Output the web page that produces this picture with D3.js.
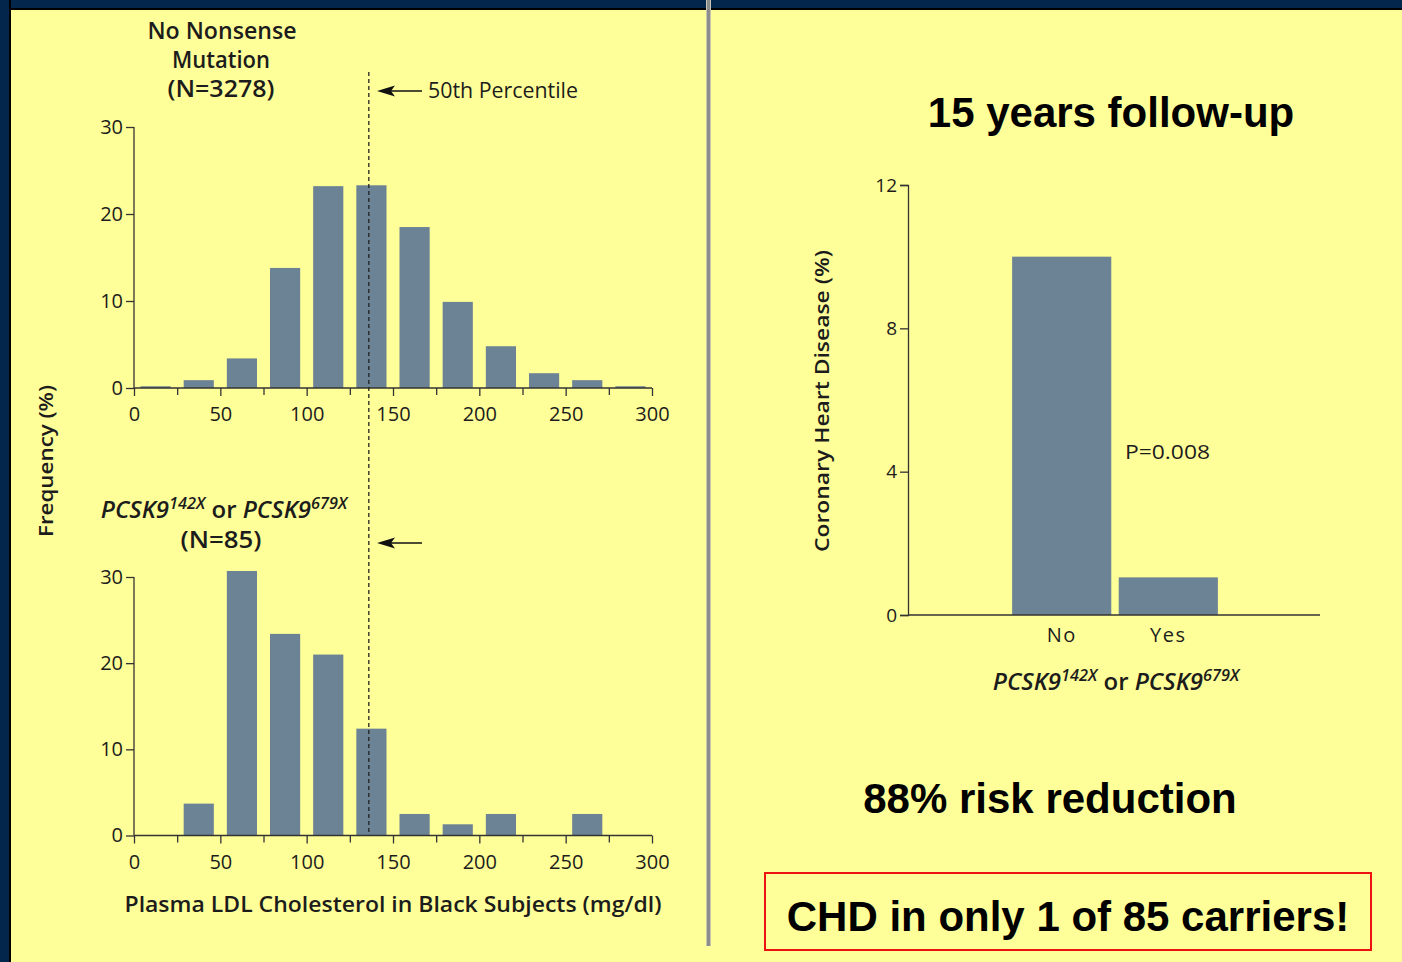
<!DOCTYPE html>
<html>
<head>
<meta charset="utf-8">
<script src="https://cdn.jsdelivr.net/npm/d3@7"></script>
<style>
  html, body { margin: 0; padding: 0; background: #ffff99; }
  svg { display: block; }
</style>
</head>
<body>
<svg id="chart" width="1402" height="962"></svg>
<script>
// ---------------- DATA ----------------
const binStarts = [0, 25, 50, 75, 100, 125, 150, 175, 200, 225, 250, 275];
const binWidth = 25;
const freqNoMutation = [0.2, 0.9, 3.4, 13.8, 23.2, 23.3, 18.5, 9.9, 4.8, 1.7, 0.9, 0.2];
const freqCarriers   = [0, 3.7, 30.7, 23.4, 21.0, 12.4, 2.5, 1.3, 2.5, 0, 2.5, 0];
const medianLDL = 136;
const ldlTicks = [0, 50, 100, 150, 200, 250, 300];
const ldlMinorTicks = [25, 75, 125, 175, 225, 275];
const freqTicks = [0, 10, 20, 30];

const chdCategories = ["No", "Yes"];
const chdValues = [10.0, 1.05];
const chdTicks = [0, 4, 8, 12];
const pValueLabel = "P=0.008";

// ---------------- STYLE ----------------
const barColor = "#6c8295";
const inkColor = "#1c1c1c";
const chartFont = "'Open Sans', 'Noto Sans', sans-serif";
const bigFont = "'Liberation Sans', Arial, sans-serif";

const svg = d3.select("#chart");

// background frame
svg.append("rect").attr("x", 0).attr("y", 0).attr("width", 1402).attr("height", 962).attr("fill", "#ffff99");
svg.append("rect").attr("x", 0).attr("y", 0).attr("width", 1402).attr("height", 10).attr("fill", "#000");
svg.append("rect").attr("x", 0).attr("y", 0).attr("width", 1402).attr("height", 8).attr("fill", "#03264d");
svg.append("rect").attr("x", 0).attr("y", 0).attr("width", 11).attr("height", 962).attr("fill", "#000");
svg.append("rect").attr("x", 0).attr("y", 0).attr("width", 9).attr("height", 962).attr("fill", "#03264d");
// divider
svg.append("rect").attr("x", 706).attr("y", 0).attr("width", 5).attr("height", 946).attr("fill", "#c8c8b0");
svg.append("rect").attr("x", 707).attr("y", 0).attr("width", 3).attr("height", 946).attr("fill", "#8c8c8c");

// ---------------- LEFT HISTOGRAMS ----------------
const x = d3.scaleLinear().domain([0, 300]).range([134, 652]);
const barPad = 6.5;

function styleAxis(a, size) {
  a.selectAll("path,line").attr("stroke", "#333").attr("stroke-width", 1.3);
  a.selectAll("text").attr("fill", inkColor).attr("font-family", chartFont)
    .attr("font-size", size).attr("font-weight", 500);
}

function histogram(values, yTop, yBottom) {
  const y = d3.scaleLinear().domain([0, 30]).range([yBottom, yTop]);
  const g = svg.append("g");
  g.selectAll("rect.bar").data(binStarts).enter().append("rect")
    .attr("class", "bar")
    .attr("x", d => x(d) + barPad)
    .attr("width", d => x(d + binWidth) - x(d) - 2 * barPad)
    .attr("y", (d, i) => y(values[i]))
    .attr("height", (d, i) => y(0) - y(values[i]))
    .attr("fill", barColor);

  const ya = g.append("g").attr("transform", `translate(${x(0)},0)`)
    .call(d3.axisLeft(y).tickValues(freqTicks).tickSize(8).tickPadding(3));
  const xa = g.append("g").attr("transform", `translate(0,${y(0)})`)
    .call(d3.axisBottom(x).tickValues(ldlTicks).tickSize(8).tickPadding(11));
  const xm = g.append("g").attr("transform", `translate(0,${y(0)})`)
    .call(d3.axisBottom(x).tickValues(ldlMinorTicks).tickSize(7).tickFormat(""));
  xm.select(".domain").remove();
  [ya, xa, xm].forEach(a => styleAxis(a, 20));
  ya.select(".domain").attr("d", `M0,${y(0)}V${y(30)}`);
  xa.select(".domain").attr("d", `M${x(0)},0H${x(300)}`);
  return y;
}

const yTop = histogram(freqNoMutation, 127, 388);
const yBot = histogram(freqCarriers, 577, 835.5);

// median dashed line
svg.append("line")
  .attr("x1", x(medianLDL)).attr("x2", x(medianLDL))
  .attr("y1", 72).attr("y2", yBot(0))
  .attr("stroke", "#222").attr("stroke-width", 1.3).attr("stroke-dasharray", "4,3");

// arrows pointing left at the median line
[91, 543].forEach(yy => {
  svg.append("line").attr("x1", 388).attr("x2", 422).attr("y1", yy).attr("y2", yy)
    .attr("stroke", "#111").attr("stroke-width", 1.6);
  svg.append("path")
    .attr("d", `M377,${yy} L395,${yy - 5.5} L391,${yy} L395,${yy + 5.5} Z`)
    .attr("fill", "#111");
});

function label(txt, xx, yy, opts = {}) {
  const t = svg.append("text").attr("x", xx).attr("y", yy)
    .attr("text-anchor", opts.anchor || "middle")
    .attr("font-family", opts.font || chartFont)
    .attr("font-size", opts.size || 20)
    .attr("font-weight", opts.weight || 600)
    .attr("font-style", opts.style || "normal")
    .attr("fill", opts.fill || inkColor)
    .text(txt);
  if (opts.len) t.attr("textLength", opts.len).attr("lengthAdjust", "spacingAndGlyphs");
  return t;
}

label("No Nonsense", 222, 39, { size: 23, len: 149 });
label("Mutation", 221, 68, { size: 23, len: 98 });
label("(N=3278)", 221, 97, { size: 23, len: 107 });
label("50th Percentile", 428, 98, { anchor: "start", size: 21, weight: 400, len: 150 });

// PCSK9 title with superscripts
function pcskTitle(cx, cy, size) {
  const t = svg.append("text").attr("x", cx).attr("y", cy)
    .attr("text-anchor", "middle").attr("font-family", chartFont)
    .attr("font-size", size).attr("font-weight", 600).attr("font-style", "italic")
    .attr("fill", inkColor);
  t.append("tspan").text("PCSK9");
  t.append("tspan").attr("dy", -9).attr("font-size", size * 0.68).text("142X");
  t.append("tspan").attr("dy", 9).attr("font-style", "normal").text(" or ");
  t.append("tspan").text("PCSK9");
  t.append("tspan").attr("dy", -9).attr("font-size", size * 0.68).text("679X");
  return t;
}
pcskTitle(224, 518, 24);
label("(N=85)", 221, 548, { size: 23, len: 81 });

label("Frequency (%)", 0, 0, { size: 20, len: 152 })
  .attr("transform", "translate(53,461) rotate(-90)");
label("Plasma LDL Cholesterol in Black Subjects (mg/dl)", 393, 912, { size: 22, len: 537 });

// ---------------- RIGHT BAR CHART ----------------
const yR = d3.scaleLinear().domain([0, 12]).range([615, 185]);
const xR = d3.scaleBand().domain(chdCategories).range([1010, 1220])
  .paddingInner(0.07).paddingOuter(0.02);

svg.append("g").selectAll("rect").data(chdCategories).enter().append("rect")
  .attr("x", d => xR(d))
  .attr("width", xR.bandwidth())
  .attr("y", (d, i) => yR(chdValues[i]))
  .attr("height", (d, i) => yR(0) - yR(chdValues[i]))
  .attr("fill", barColor);

const yRa = svg.append("g").attr("transform", "translate(908,0)")
  .call(d3.axisLeft(yR).tickValues(chdTicks).tickSize(8).tickPadding(3));
styleAxis(yRa, 19);

svg.append("line").attr("x1", 908).attr("x2", 1320).attr("y1", yR(0)).attr("y2", yR(0))
  .attr("stroke", "#333").attr("stroke-width", 1.3);

svg.append("g").selectAll("text").data(chdCategories).enter().append("text")
  .attr("x", d => xR(d) + xR.bandwidth() / 2)
  .attr("y", 642)
  .attr("text-anchor", "middle")
  .attr("font-family", chartFont).attr("font-size", 20).attr("letter-spacing", 1.5)
  .attr("fill", inkColor)
  .text(d => d);

label(pValueLabel, 1125, 459, { anchor: "start", size: 20, weight: 400, len: 85 });
label("Coronary Heart Disease (%)", 0, 0, { size: 20, len: 302 })
  .attr("transform", "translate(829,401) rotate(-90)");
pcskTitle(1116, 690, 24);

// ---------------- BIG TEXT ----------------
label("15 years follow-up", 1111, 127, { font: bigFont, size: 42, weight: 700, fill: "#000" });
label("88% risk reduction", 1050, 813, { font: bigFont, size: 42, weight: 700, fill: "#000" });
svg.append("rect").attr("x", 765).attr("y", 873).attr("width", 606).attr("height", 77)
  .attr("fill", "none").attr("stroke", "#ee1111").attr("stroke-width", 2);
label("CHD in only 1 of 85 carriers!", 1068, 931, { font: bigFont, size: 42, weight: 700, fill: "#000" });
</script>
</body>
</html>
